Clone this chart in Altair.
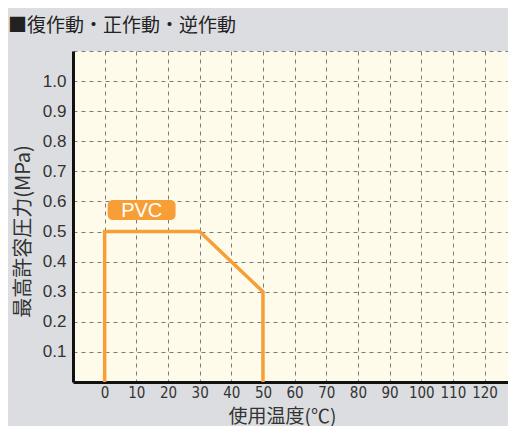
import altair as alt
import pandas as pd

# PVC pressure-temperature envelope
temps = [0, 0, 30, 50, 50]
pressures = [0.0, 0.5, 0.5, 0.3, 0.0]

# label box (data units)
label_text = ["PVC"]
label_x = [11.7]
label_y = [0.571]
box_x = [0.95]
box_x2 = [22.4]
box_y = [0.538]
box_y2 = [0.605]

x_ticks = [0, 10, 20, 30, 40, 50, 60, 70, 80, 90, 100, 110, 120]
y_ticks = [0.1, 0.2, 0.3, 0.4, 0.5, 0.6, 0.7, 0.8, 0.9, 1.0, 1.1]

ORANGE = "#f79e37"
CJK = "Noto Sans CJK JP"
NARROW = "'DejaVu Sans Condensed', 'Liberation Sans Narrow', sans-serif"

line_df = pd.DataFrame({"t": temps, "p": pressures, "i": list(range(len(temps)))})
lab_df = pd.DataFrame({"text": label_text, "x": label_x, "y": label_y,
                       "bx": box_x, "bx2": box_x2, "by": box_y, "by2": box_y2})

xscale = alt.Scale(domain=[-10, 127.4], nice=False, zero=False)
yscale = alt.Scale(domain=[0, 1.1], nice=False)

xaxis = alt.Axis(
    values=x_ticks, title="使用温度(℃)", grid=True, ticks=False,
    labelOverlap=False,
    labelFont=NARROW, labelFontSize=15, labelColor="#333",
    labelPadding=3, labelFlush=False,
    titleFont=CJK, titleFontSize=19, titleFontWeight="normal", titleColor="#333",
    titleX=209, titleY=34, titleAlign="center", titleBaseline="middle",
    domainColor="#111", domainWidth=3,
    gridColor="#7a7a7a", gridDash=[4, 4], gridWidth=1,
)
yaxis = alt.Axis(
    values=y_ticks, title="最高許容圧力(MPa)", grid=True, ticks=False,
    format=".1f", labelOverlap=False,
    labelExpr="datum.value > 1.05 ? '' : datum.label",
    labelFont="Liberation Sans", labelFontSize=17, labelColor="#333",
    labelPadding=7,
    titleFont=CJK, titleFontSize=20, titleFontWeight="normal", titleColor="#333",
    titleX=-50, titleY=180, titleAngle=270, titleAlign="center", titleBaseline="middle",
    domainColor="#111", domainWidth=3,
    gridColor="#7a7a7a", gridDash=[4, 4], gridWidth=1,
)

line = alt.Chart(line_df).mark_line(
    color=ORANGE, strokeWidth=3.5, strokeJoin="miter", strokeCap="butt"
).encode(
    x=alt.X("t:Q", scale=xscale, axis=xaxis),
    y=alt.Y("p:Q", scale=yscale, axis=yaxis),
    order="i:Q",
)

box = alt.Chart(lab_df).mark_rect(color=ORANGE, cornerRadius=5).encode(
    x=alt.X("bx:Q", scale=xscale, axis=xaxis), x2="bx2",
    y=alt.Y("by:Q", scale=yscale, axis=yaxis), y2="by2",
)
txt = alt.Chart(lab_df).mark_text(
    color="white", font="Liberation Sans", fontSize=20, baseline="middle", align="center", dy=1
).encode(
    x=alt.X("x:Q", scale=xscale, axis=xaxis),
    y=alt.Y("y:Q", scale=yscale, axis=yaxis),
    text="text:N",
)

chart = alt.layer(line, box, txt).properties(
    width=435, height=331,
    background="#dcdde0",
    padding={"left": 65, "top": 43, "right": 0, "bottom": 44},
    autosize=alt.AutoSizeParams(type="none"),
    title=alt.TitleParams(
        "■復作動・正作動・逆作動", font=CJK, fontSize=19, fontWeight="normal",
        color="#222", anchor="start", frame="group", dx=-65, offset=3, dy=12,
        baseline="alphabetic",
    ),
).configure_view(fill="#fffbea", stroke=None).configure_axis(labelOverlap=False)

chart.save("out.html", embed_options={"renderer": "svg", "actions": False})
